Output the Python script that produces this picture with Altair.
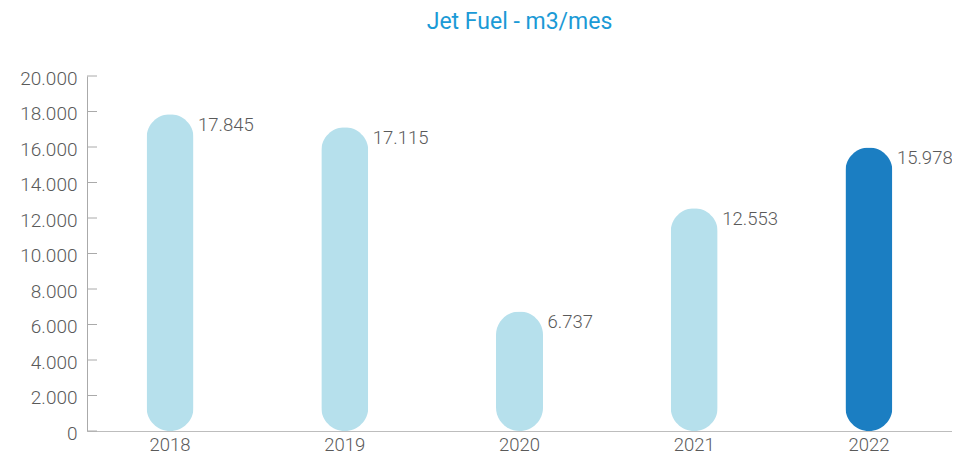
import altair as alt
import pandas as pd

years = ["2018", "2019", "2020", "2021", "2022"]
values = [17845, 17115, 6737, 12553, 15978]
bar_colors = ["#b6e0ec", "#b6e0ec", "#b6e0ec", "#b6e0ec", "#1b7ec2"]
tick_values = [0, 2000, 4000, 6000, 8000, 10000, 12000, 14000, 16000, 18000, 20000]

df = pd.DataFrame({
    "year": years,
    "value": values,
    "color": bar_colors,
    "label": [f"{v:,}".replace(",", ".") for v in values],
})
ticks_df = pd.DataFrame({"t": tick_values})

FONT = "Roboto"
WEIGHT = 300
GRAY = "#5a5a5a"

x_scale = alt.Scale(paddingInner=0.731, paddingOuter=0.341)
x_axis = alt.Axis(labelAngle=0, ticks=False, labelPadding=4, title=None,
                  domainColor="#bdbdbd", labelFontSize=18.5,
                  labelFontWeight=WEIGHT, labelColor=GRAY, labelFont=FONT)
y_scale = alt.Scale(domain=[0, 20000], nice=False)
y_axis = alt.Axis(values=tick_values, ticks=False, grid=False, title=None,
                  labelPadding=10, labelOffset=2, labelOverlap=False,
                  labelExpr="replace(format(datum.value, ','), ',', '.')",
                  domainColor="#aaaaaa", labelFontSize=19,
                  labelFontWeight=WEIGHT, labelColor=GRAY, labelFont=FONT)

bars = alt.Chart(df).mark_bar(cornerRadius=23.5, width=47).encode(
    x=alt.X("year:N", sort=years, title=None, scale=x_scale, axis=x_axis),
    y=alt.Y("value:Q", title=None, scale=y_scale, axis=y_axis),
    color=alt.Color("color:N", scale=None),
)

labels = alt.Chart(df).mark_text(align="left", baseline="middle", dx=28, dy=11,
                                 fontSize=18.5, fontWeight=WEIGHT,
                                 color=GRAY, font=FONT).encode(
    x=alt.X("year:N", sort=years, title=None, scale=x_scale, axis=x_axis),
    y=alt.Y("value:Q", title=None, scale=y_scale, axis=y_axis),
    text="label:N",
)

tick_marks = alt.Chart(ticks_df).mark_rule(color="#aaaaaa", strokeWidth=1).encode(
    y=alt.Y("t:Q", title=None, scale=y_scale, axis=y_axis),
    x=alt.value(0),
    x2=alt.value(10),
)

chart = alt.layer(bars, tick_marks, labels).properties(
    width=865,
    height=355,
    title=alt.TitleParams("Jet Fuel - m3/mes", fontSize=23, fontWeight="normal",
                          color="#1b9ad6", font=FONT, anchor="middle", offset=35),
    autosize=alt.AutoSizeParams(type="none"),
    padding={"left": 79, "top": 68, "right": 0, "bottom": 24},
).configure_view(stroke=None).configure_axis(grid=False)

chart.save("out.html", embed_options={"renderer": "svg", "actions": False})
